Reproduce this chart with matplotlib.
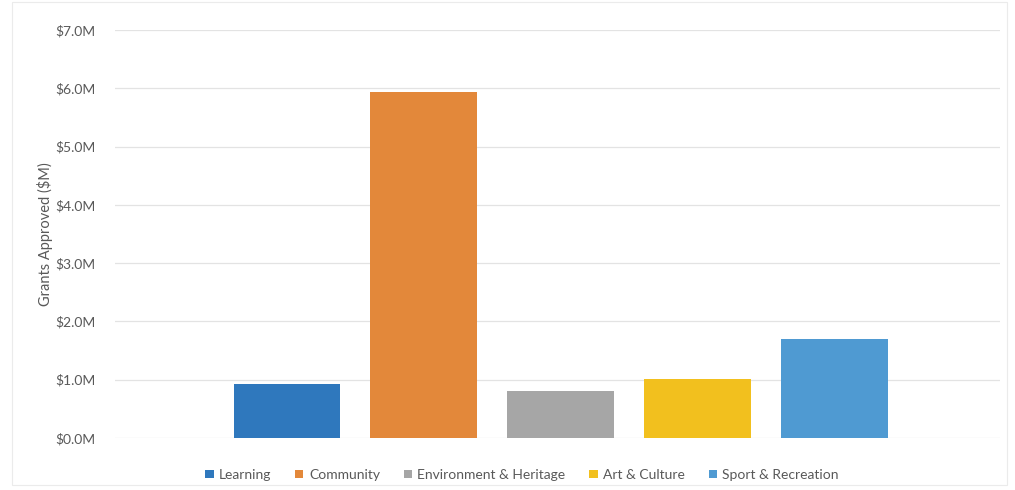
import matplotlib.pyplot as plt
from matplotlib.ticker import FuncFormatter

categories = ['Learning', 'Community', 'Environment & Heritage', 'Art & Culture', 'Sport & Recreation']
grants = [0.92, 5.93, 0.80, 1.01, 1.69]
colors = ['#2F78BD', '#E3883A', '#A6A6A6', '#F2C01E', '#4F9AD2']

plt.rcParams['font.family'] = ['Lato', 'DejaVu Sans']
txt = '#595959'

fig = plt.figure(figsize=(10.15, 4.9), dpi=100)
ax = fig.add_axes([115 / 1015, 1 - 438 / 490, 885 / 1015, 408 / 490])

x = list(range(len(categories)))
for i in x:
    ax.bar(i, grants[i], width=0.78, color=colors[i], label=categories[i], zorder=2)

ax.set_xlim(-1.255, 5.205)
ax.set_ylim(0, 7)
ax.set_yticks([0, 1, 2, 3, 4, 5, 6, 7])
ax.yaxis.set_major_formatter(FuncFormatter(lambda v, p: '$%.1fM' % v))
ax.tick_params(axis='y', length=0, labelsize=10, colors=txt, pad=14)
ax.set_xticks([])
ax.grid(axis='y', color='#E3E3E3', linewidth=0.9, zorder=0)
for s in ax.spines.values():
    s.set_visible(False)
ax.set_ylabel('Grants Approved ($M)', fontsize=10.5, color=txt, labelpad=2)

ax.legend(loc='upper center', bbox_to_anchor=(0.46, -0.045), ncol=5, frameon=False,
          fontsize=10, labelcolor=txt, handlelength=0.6, handleheight=0.6,
          handletextpad=0.4, columnspacing=1.7)

fig.patches.append(plt.Rectangle((0.012, 0.01), 0.98, 0.985, transform=fig.transFigure,
                                 fill=False, edgecolor='#EBEBEB', linewidth=0.8))

fig.savefig('out.png', dpi=100)
